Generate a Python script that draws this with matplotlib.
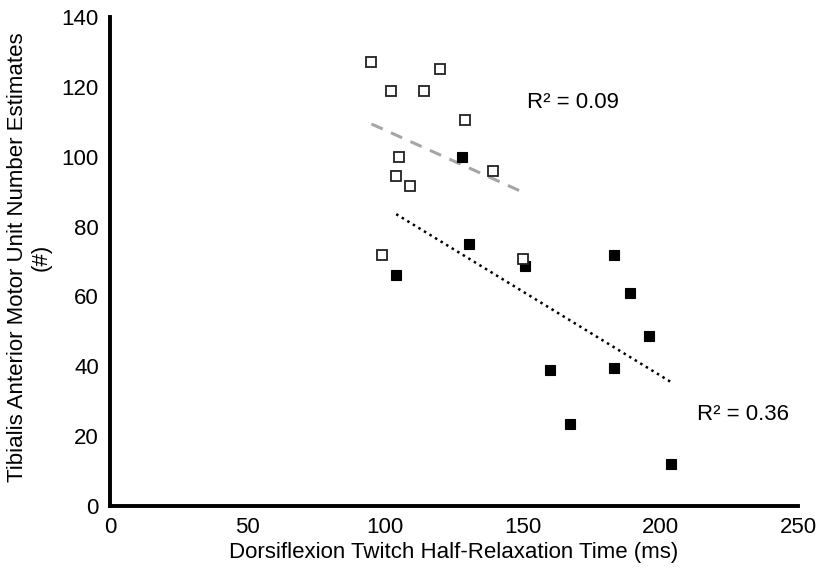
import numpy as np
import matplotlib.pyplot as plt

plt.rcParams['font.family'] = ['Liberation Sans', 'DejaVu Sans']

# open squares (group 1)
open_x = [95, 120, 102, 114, 129, 105, 104, 109, 139, 99, 150]
open_y = [127, 125, 118.8, 118.8, 110.5, 100, 94.5, 91.6, 95.9, 72, 70.6]

# filled squares (group 2)
fill_x = [128, 104, 130.5, 150.7, 183, 189, 160, 183, 196, 167, 204]
fill_y = [100, 66, 75, 68.7, 72, 61, 39, 39.6, 48.7, 23.6, 12]

x_ticks = [0, 50, 100, 150, 200, 250]
y_ticks = [0, 20, 40, 60, 80, 100, 120, 140]

fig = plt.figure(figsize=(8.19, 5.75), dpi=100)
ax = fig.add_axes([0.1343, 0.12, 0.8401, 0.8504])

ax.plot(fill_x, fill_y, 's', color='black', ms=7.5, mec='black', mew=0.8, zorder=3)
ax.plot(open_x, open_y, 's', color='white', ms=7, mec='#222222', mew=1.3, zorder=4)

# linear trendlines over each group's x range
for xs, ys, style in [(open_x, open_y, dict(color='#a6a6a6', ls=(0, (4, 3)), lw=2.2)),
                      (fill_x, fill_y, dict(color='black', ls=(0, (1, 1.6)), lw=1.8))]:
    k, b = np.polyfit(xs, ys, 1)
    xx = np.array([min(xs), max(xs)])
    ax.plot(xx, k * xx + b, zorder=2, **style)

ax.text(151.5, 115.4, 'R² = 0.09', fontsize=16, va='center', ha='left')
ax.text(213.3, 26.3, 'R² = 0.36', fontsize=16, va='center', ha='left')

ax.set_xlim(0, 250)
ax.set_ylim(0, 140)
ax.set_xticks(x_ticks)
ax.set_yticks(y_ticks)
ax.tick_params(length=0, labelsize=16, pad=8)
for s in ['top', 'right']:
    ax.spines[s].set_visible(False)
for s in ['left', 'bottom']:
    ax.spines[s].set_linewidth(2.8)
    ax.spines[s].set_color('black')

ax.set_xlabel('Dorsiflexion Twitch Half-Relaxation Time (ms)', fontsize=16, labelpad=3)
ax.set_ylabel('Tibialis Anterior Motor Unit Number Estimates\n(#)', fontsize=16,
              linespacing=1.15, va='center')
ax.yaxis.set_label_coords(-0.117, 0.509)

fig.savefig('out.png', dpi=100, facecolor='white')
